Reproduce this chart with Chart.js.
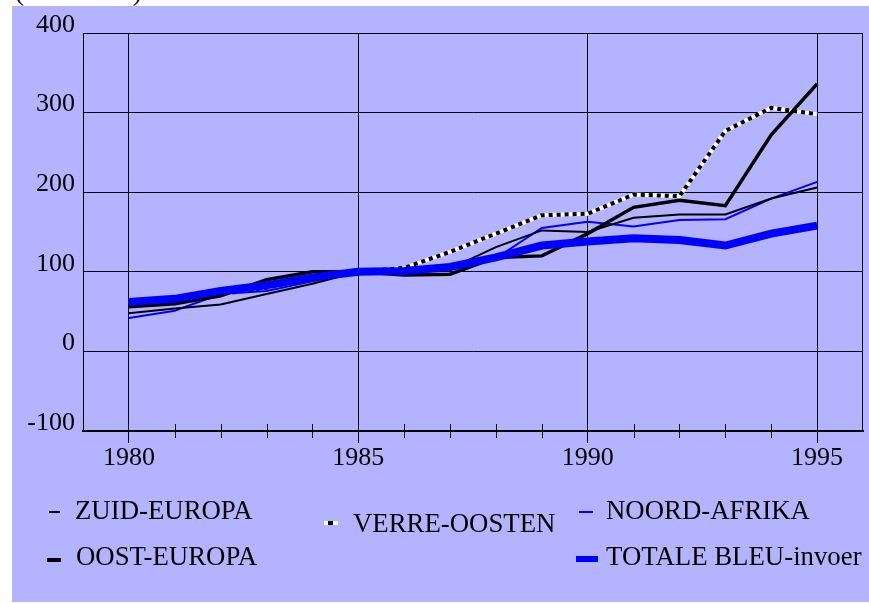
<!DOCTYPE html>
<html><head><meta charset="utf-8">
<script src="https://cdn.jsdelivr.net/npm/chart.js@4.4.1/dist/chart.umd.min.js"></script>
<style>
html,body{margin:0;padding:0;background:#fff;width:869px;height:603px;overflow:hidden;}
#panel{position:absolute;left:12px;top:6px;width:857px;height:596px;background:#b3b3ff;}
#wrap{position:absolute;left:0;top:0;width:869px;height:603px;}
.t{position:absolute;font-family:"Liberation Serif","Times New Roman",serif;font-size:26.8px;line-height:26px;color:#000;white-space:nowrap;}
.m{position:absolute;}
</style></head><body>
<div id="panel"></div>
<div class="t" style="left:15px;top:-22px;">(1985=100)</div>
<div id="wrap"><canvas id="c" width="869" height="603"></canvas></div>

<div class="m" style="left:49px;top:511px;width:11px;height:2px;background:#000;"></div>
<div class="t" style="left:75px;top:497px;">ZUID-EUROPA</div>
<div class="m" style="left:47px;top:558px;width:14px;height:4px;background:#000;"></div>
<div class="t" style="left:76px;top:543px;">OOST-EUROPA</div>
<div class="m" style="left:324px;top:521px;width:14px;height:4px;background:linear-gradient(to right,#fff 0,#fff 4px,#000 4px,#000 9px,#fff 9px,#fff 14px);"></div>
<div class="t" style="left:353px;top:510px;">VERRE-OOSTEN</div>
<div class="m" style="left:579px;top:511px;width:14px;height:2px;background:#0000ff;"></div>
<div class="t" style="left:606px;top:497px;">NOORD-AFRIKA</div>
<div class="m" style="left:576px;top:556px;width:22px;height:6px;background:#0000ff;"></div>
<div class="t" style="left:606px;top:543px;">TOTALE BLEU-invoer</div>

<script>
const years = [1980,1981,1982,1983,1984,1985,1986,1987,1988,1989,1990,1991,1992,1993,1994,1995];
const zuidEuropa  = [48, 54, 59, 72, 85, 100, 100, 104, 131, 152, 150, 168, 172, 172, 192, 206];
const oostEuropa  = [56, 60, 70, 90, 100, 100, 96, 97, 118, 120, 148, 181, 190, 183, 272, 336];
const verreOosten = [60, 65, 72, 80, 92, 100, 105, 125, 148, 171, 173, 197, 195, 277, 306, 298];
const noordAfrika = [42, 51, 72, 76, 88, 100, 101, 107, 117, 155, 163, 157, 165, 166, 192, 213];
const totaleBleu  = [62, 66, 76, 83, 93, 100, 101, 106, 118, 133, 138, 142, 140, 133, 148, 158];
const yTicks = [-100, 0, 100, 200, 300, 400];
const majorYears = [1980, 1985, 1990, 1995];

const pts = arr => years.map((yr, i) => ({x: yr, y: arr[i]}));

const frame = {
  id: 'frame',
  beforeDatasetsDraw(chart) {
    const {ctx, chartArea: a, scales: {x}} = chart;
    ctx.save();
    ctx.strokeStyle = '#000';
    ctx.lineWidth = 1;
    ctx.strokeRect(a.left + 0.5, a.top + 0.5, a.right - a.left - 1, a.bottom - a.top);
    years.forEach(yr => {
      if (!majorYears.includes(yr)) {
        const px = Math.round(x.getPixelForValue(yr)) + 0.5;
        ctx.beginPath();
        ctx.moveTo(px, a.bottom - 7);
        ctx.lineTo(px, a.bottom + 7);
        ctx.stroke();
      }
    });
    ctx.restore();
  }
};

const base = {fill: false, pointRadius: 0, tension: 0, borderCapStyle: 'butt', borderJoinStyle: 'miter'};

new Chart(document.getElementById('c'), {
  type: 'line',
  data: {
    datasets: [
      Object.assign({}, base, {label: 'TOTALE BLEU-invoer', data: pts(totaleBleu), borderColor: '#0000ff', borderWidth: 8, order: 0}),
      Object.assign({}, base, {label: 'OOST-EUROPA', data: pts(oostEuropa), borderColor: '#000', borderWidth: 3.5, order: 1}),
      Object.assign({}, base, {label: 'ZUID-EUROPA', data: pts(zuidEuropa), borderColor: '#000', borderWidth: 2, order: 2}),
      Object.assign({}, base, {label: 'NOORD-AFRIKA', data: pts(noordAfrika), borderColor: '#0000ff', borderWidth: 2, order: 3}),
      Object.assign({}, base, {label: 'VERRE-OOSTEN', data: pts(verreOosten), borderColor: '#000', borderWidth: 4, borderDash: [4, 4], order: 4}),
      Object.assign({}, base, {label: 'VERRE-OOSTEN (wit)', data: pts(verreOosten), borderColor: '#fff', borderWidth: 4, order: 5})
    ]
  },
  options: {
    responsive: false,
    animation: false,
    devicePixelRatio: 1,
    layout: {padding: {top: 33, right: 6, left: 0, bottom: 0}},
    plugins: {legend: {display: false}, tooltip: {enabled: false}},
    scales: {
      x: {
        type: 'linear',
        min: 1979,
        max: 1996,
        afterBuildTicks: s => { s.ticks = years.map(v => ({value: v})); },
        afterFit: s => { s.height = 172; },
        grid: {
          color: c => (c.tick && majorYears.includes(c.tick.value)) ? '#000' : 'rgba(0,0,0,0)',
          tickColor: c => (c.tick && majorYears.includes(c.tick.value)) ? '#000' : 'rgba(0,0,0,0)',
          tickLength: 12,
          lineWidth: 1
        },
        border: {display: true, color: '#000', width: 2},
        ticks: {
          autoSkip: false, maxRotation: 0, padding: 0, color: '#000',
          font: {family: '"Liberation Serif","Times New Roman",serif', size: 26},
          callback: v => majorYears.includes(v) ? String(v) : ''
        }
      },
      y: {
        min: -100,
        max: 400,
        afterBuildTicks: s => { s.ticks = yTicks.map(v => ({value: v})); },
        afterFit: s => { s.width = 83; },
        grid: {color: '#000', lineWidth: 1, drawTicks: false},
        border: {display: true, color: '#000', width: 1},
        ticks: {
          padding: 8, labelOffset: -8, color: '#000',
          font: {family: '"Liberation Serif","Times New Roman",serif', size: 26},
          callback: v => String(v)
        }
      }
    }
  },
  plugins: [frame]
});
</script>
</body></html>
